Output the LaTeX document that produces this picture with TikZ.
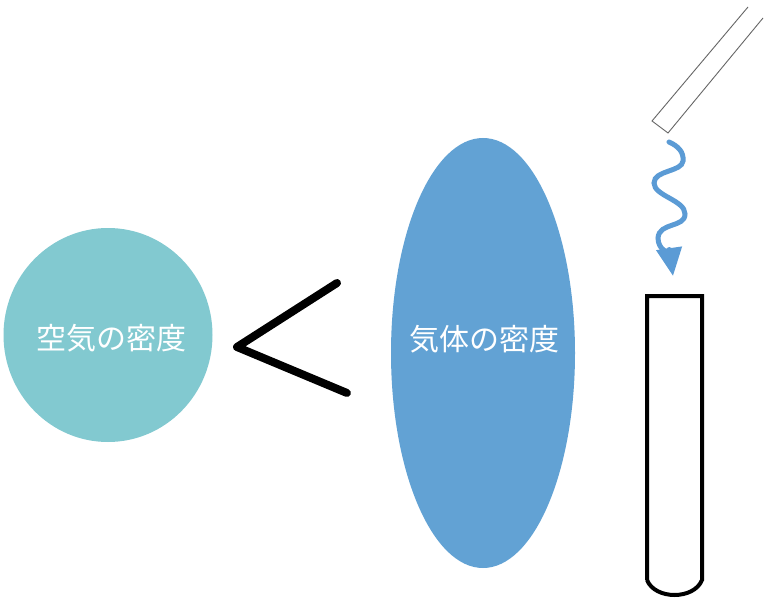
\documentclass[tikz,border=0pt]{standalone}
\usepackage{fontspec}
\newfontfamily\jpfont{Noto Sans CJK JP}
\usepackage{tikz}
\usetikzlibrary{positioning}
\usetikzlibrary{shapes.geometric}
\usetikzlibrary{arrows.meta}
\definecolor{airteal}{HTML}{82C9D0}
\definecolor{gasblue}{HTML}{62A2D4}
\definecolor{wavyblue}{HTML}{5B9BD5}
\definecolor{pipgray}{HTML}{666666}

\begin{document}
\begin{tikzpicture}[
  x=1pt,y=-1pt,
  mydisc/.style={ellipse,inner sep=0pt,draw=none},
  mytext/.style={text=white,font=\jpfont\fontsize{30}{36}\selectfont,inner sep=0pt},
  lessthan/.style={line width=8pt,line cap=round,line join=round},
  tube/.style={line width=4pt},
  pipette/.style={draw=pipgray,line width=0.9pt},
  wave/.style={draw=wavyblue,line width=5pt,line cap=round,
    -{Triangle[width=25pt,length=28pt]}}
]
\useasboundingbox[fill=white] (0,0) rectangle (768,604);

\node[mydisc,fill=airteal,minimum width=209pt,minimum height=214pt] (air) at (108,335) {};
\node[mytext] (airtext) at (111,338) {空気の密度};

\node[mydisc,fill=gasblue,minimum width=184pt,minimum height=430pt] (gas) at (483,353) {};
\node[mytext] (gastext) at (484,339) {気体の密度};

% sign between the two
\draw[lessthan] (337,283) -- (237,347) -- (347,393);

% pipette
\draw[pipette] (748,7) -- (652,121) -- (668,133) -- (763,18);

% drop falling into the tube
\draw[wave] (669,142) .. controls (678,146) and (684,152) .. (683,161)
  .. controls (682,172) and (654,170) .. (654,183)
  .. controls (654,196) and (685,200) .. (685,214)
  .. controls (685,228) and (659,222) .. (658,238)
  .. controls (658,250) and (670,255) .. (673,276);

% test tube
\draw[tube] (647,580) -- (647,296) -- (702,296) -- (702,580)
  .. controls (694,600) and (655,600) .. (647,580);

\end{tikzpicture}
\end{document}
